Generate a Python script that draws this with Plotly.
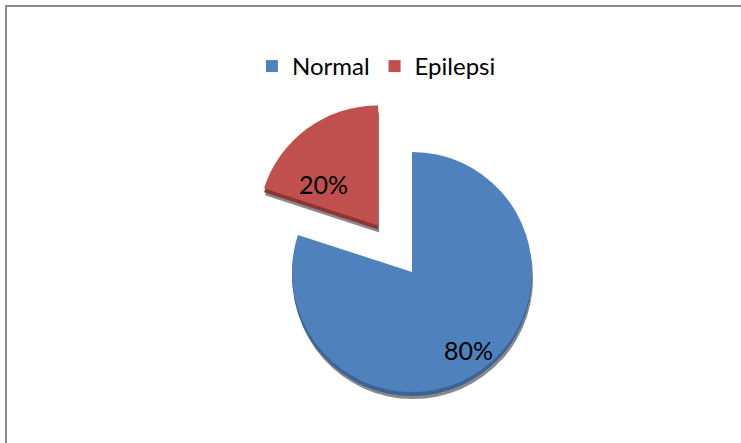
import math
import plotly.graph_objects as go

# Data
labels = ["Normal", "Epilepsi"]
values = [80, 20]
colors = ["#4F81BD", "#C0504D"]
side_colors = ["#3B6396", "#8E3533"]
pull_out = [0.0, 0.48]

# Label placement (fraction of radius, angular shift in degrees)
label_radius = [0.8, 0.57]
label_shift = [0, -17]

W, H = 741, 443
CX, CY = 412, 272      # pixel centre of the un-pulled pie
R = 120                # pie radius in pixels
DEPTH = 4              # thickness of the extruded side
SHADOW = 7             # drop shadow offset

FONT = "Lato, Carlito, Calibri, 'Open Sans', sans-serif"
CLEAR = "rgba(0,0,0,0)"

total = float(sum(values))
fracs = [v / total for v in values]
starts = [sum(fracs[:i]) * 360 for i in range(len(fracs))]
mids = [s + f * 180 for s, f in zip(starts, fracs)]


def px_domain(cx, cy, r):
    """Square pie domain (paper coords) with centre (cx, cy) and radius r in px."""
    return dict(x=[(cx - r) / W, (cx + r) / W],
                y=[1 - (cy + r) / H, 1 - (cy - r) / H])


def slice_center(i):
    a = math.radians(mids[i])
    d = pull_out[i] * R
    return CX + d * math.sin(a), CY - d * math.cos(a)


def one_slice_pie(i, color, cx, cy):
    cols = [color if j == i else CLEAR for j in range(len(values))]
    return go.Pie(
        labels=labels, values=values, sort=False, direction="clockwise",
        rotation=0, marker=dict(colors=cols, line=dict(width=0)),
        textinfo="none", hoverinfo="skip", showlegend=False,
        domain=px_domain(cx, cy, R),
    )


fig = go.Figure()

# shadow, extruded side, then top face for every slice
for i in range(len(values)):
    sx, sy = slice_center(i)
    fig.add_trace(one_slice_pie(i, "rgba(40,40,40,0.55)", sx + 1, sy + SHADOW))
for i in range(len(values)):
    sx, sy = slice_center(i)
    fig.add_trace(one_slice_pie(i, side_colors[i], sx, sy + DEPTH))
for i in range(len(values)):
    sx, sy = slice_center(i)
    fig.add_trace(one_slice_pie(i, colors[i], sx, sy))

# legend entries
for lab, col in zip(labels, colors):
    fig.add_trace(go.Scatter(
        x=[None], y=[None], mode="markers", name=lab,
        marker=dict(symbol="square", size=12, color=col),
        hoverinfo="skip",
    ))

# percentage labels
annotations = []
for i in range(len(values)):
    sx, sy = slice_center(i)
    a = math.radians(mids[i] + label_shift[i])
    lx = sx + label_radius[i] * R * math.sin(a)
    ly = sy - label_radius[i] * R * math.cos(a)
    annotations.append(dict(
        x=lx / W, y=1 - ly / H, xref="paper", yref="paper",
        text=f"{fracs[i]:.0%}", showarrow=False,
        font=dict(family=FONT, size=25, color="#000000"),
        xanchor="center", yanchor="middle",
    ))

fig.update_layout(
    width=W, height=H,
    margin=dict(l=0, r=0, t=0, b=0),
    paper_bgcolor="white", plot_bgcolor="white",
    xaxis=dict(visible=False), yaxis=dict(visible=False),
    showlegend=True,
    legend=dict(
        orientation="h", x=0.508, xanchor="center", y=1 - 44 / H, yanchor="top",
        font=dict(family=FONT, size=24, color="#000000"),
        itemwidth=30, bgcolor="rgba(0,0,0,0)",
    ),
    annotations=annotations,
    shapes=[dict(
        type="rect", xref="paper", yref="paper",
        x0=6 / W, y0=-0.1, x1=1.1, y1=1 - 6 / H,
        line=dict(color="#8C8C8C", width=2), layer="above",
    )],
)

fig.write_html("out.html")
